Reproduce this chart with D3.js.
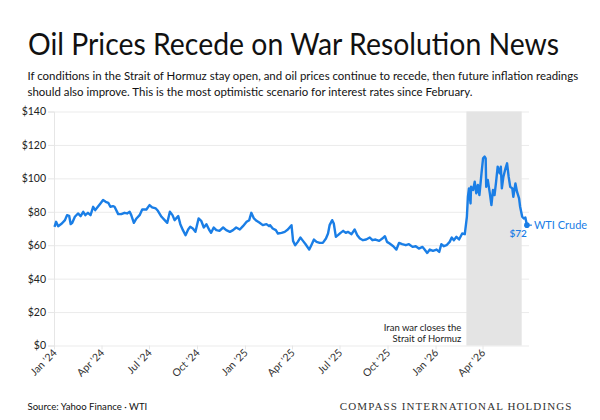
<!DOCTYPE html>
<html>
<head>
<meta charset="utf-8">
<script src="https://cdn.jsdelivr.net/npm/d3@7"></script>
<style>
  html, body { margin: 0; padding: 0; background: #fff; }
  svg { display: block; }
</style>
</head>
<body>
<svg id="chart" width="600" height="420"></svg>
<script>
// ---- DATA ----
const dates = [
"2024-01-02","2024-01-05","2024-01-09","2024-01-16","2024-01-22","2024-01-26","2024-01-30","2024-02-02","2024-02-05","2024-02-10",
"2024-02-16","2024-02-21","2024-02-26","2024-03-01","2024-03-06","2024-03-11","2024-03-16","2024-03-20","2024-03-25","2024-03-30",
"2024-04-04","2024-04-09","2024-04-14","2024-04-18","2024-04-23","2024-04-26","2024-05-03","2024-05-09","2024-05-15","2024-05-20",
"2024-05-25","2024-05-28","2024-06-02","2024-06-07","2024-06-13","2024-06-18","2024-06-26","2024-07-02","2024-07-07","2024-07-14",
"2024-07-18","2024-07-25","2024-07-31","2024-08-05","2024-08-10","2024-08-15","2024-08-19","2024-08-26","2024-08-30","2024-09-04",
"2024-09-09","2024-09-14","2024-09-18","2024-09-23","2024-09-28","2024-10-04","2024-10-09","2024-10-14","2024-10-19","2024-10-24",
"2024-10-28","2024-11-02","2024-11-07","2024-11-13","2024-11-20","2024-11-26","2024-12-03","2024-12-09","2024-12-15","2024-12-22",
"2024-12-28","2025-01-04","2025-01-09","2025-01-13","2025-01-18","2025-01-23","2025-01-29","2025-02-04","2025-02-11","2025-02-16",
"2025-02-18","2025-02-23","2025-03-01","2025-03-05","2025-03-12","2025-03-18","2025-03-24","2025-03-31","2025-04-03","2025-04-07",
"2025-04-12","2025-04-17","2025-04-22","2025-04-27","2025-05-04","2025-05-08","2025-05-13","2025-05-18","2025-05-24","2025-05-30",
"2025-06-05","2025-06-09","2025-06-12","2025-06-17","2025-06-20","2025-06-24","2025-06-28","2025-07-03","2025-07-08","2025-07-13",
"2025-07-17","2025-07-24","2025-07-30","2025-08-04","2025-08-09","2025-08-15","2025-08-21","2025-08-28","2025-09-02","2025-09-08",
"2025-09-15","2025-09-21","2025-09-26","2025-09-30","2025-10-05","2025-10-12","2025-10-18","2025-10-23","2025-10-29","2025-11-05",
"2025-11-11","2025-11-18","2025-11-24","2025-11-30","2025-12-07","2025-12-11","2025-12-16","2025-12-21","2025-12-27","2026-01-03",
"2026-01-08","2026-01-12","2026-01-17","2026-01-22","2026-01-28","2026-02-01","2026-02-05","2026-02-10","2026-02-15","2026-02-21",
"2026-02-26","2026-03-02","2026-03-04","2026-03-06","2026-03-09","2026-03-10","2026-03-14","2026-03-17","2026-03-20","2026-03-23",
"2026-03-26","2026-03-30","2026-04-02","2026-04-05","2026-04-07","2026-04-08","2026-04-11","2026-04-15","2026-04-18","2026-04-21",
"2026-04-24","2026-04-27","2026-04-30","2026-05-04","2026-05-06","2026-05-08","2026-05-11","2026-05-15","2026-05-18","2026-05-21",
"2026-05-24","2026-05-28","2026-05-30","2026-06-03","2026-06-06","2026-06-10","2026-06-12","2026-06-16","2026-06-19","2026-06-22",
"2026-06-25"
];
const prices = [
71,74,71.4,73,75,78,77.6,72.6,73.4,77,
79,77.4,80,78,79.4,78,83,81,83,85,
87,86,85.4,83,83.4,83,78.6,78.6,79.4,79,
80,78,73.4,76,78,81.4,81.4,84,82.6,82,
80.6,77,75,73.4,80,78,75,77.4,72.6,69,
66,69.4,71,70,68,76,74.6,70.6,72.6,69.4,
67.4,70.6,69,68.6,70.6,69,68,69,70.6,69.4,
71.4,74,75,79.4,76,74.6,73.4,72,72.6,71.4,
72,70,69,67,67.4,68,69.4,72,62.6,60,
62,64.6,62.6,60.6,57.4,60,63.4,62,61.4,61.4,
64,67,72,75,73,65,66,67.4,68.6,67.4,
68,66.6,69.4,66,64,63,63.4,64.6,63,63.4,
62.6,64,65.4,62,61,59.4,57.4,61.4,60.6,60,
60.6,59,59.4,58,59,57.4,55.4,57.4,56.6,57.4,
56,60.6,59.4,60,62,64.6,63,65,63.4,67,
66.6,77,89,94,85,95,93,98,91,96,
90,103,112,113,112,95,99,91,84,93,
90,98,107,103,107,94,101,106,109,101,
95,94,89,97,92,88,83,77,76,76.6,
72
];
const yTicks = [0, 20, 40, 60, 80, 100, 120, 140];
const xTickDates = ["2024-01-01","2024-04-01","2024-07-01","2024-10-01","2025-01-01","2025-04-01","2025-07-01","2025-10-01","2026-01-01","2026-04-01"];
const xTickLabels = ["Jan '24","Apr '24","Jul '24","Oct '24","Jan '25","Apr '25","Jul '25","Oct '25","Jan '26","Apr '26"];
const shadeRange = ["2026-03-01", "2026-06-15"];
const xDomain = ["2024-01-01", "2026-06-29"];
const yDomain = [0, 140];
const titleText = "Oil Prices Recede on War Resolution News";
const subtitleLines = [
  "If conditions in the Strait of Hormuz stay open, and oil prices continue to recede, then future inflation readings",
  "should also improve. This is the most optimistic scenario for interest rates since February."
];
const annotationLines = ["Iran war closes the", "Strait of Hormuz"];
const seriesName = "WTI Crude";
const sourceText = "Source: Yahoo Finance \u00b7 WTI";
const brandText = "COMPASS INTERNATIONAL HOLDINGS";

// ---- CHART ----
(function () {
const parse = d3.timeParse("%Y-%m-%d");
const data = dates.map((d, i) => ({ date: parse(d), value: prices[i] }));
const blue = "#1a7ee6";
const sans = "Lato, 'Noto Sans', sans-serif";

const svg = d3.select("#chart");
const pLeft = 54, pRight = 529, pTop = 111.5, pBottom = 345.5;

const x = d3.scaleTime().domain(xDomain.map(parse)).range([pLeft, pRight]);
const y = d3.scaleLinear().domain(yDomain).range([pBottom, pTop]);

function fitText(sel, target) {
  const fs = parseFloat(sel.attr("font-size"));
  const w = sel.node().getComputedTextLength();
  sel.attr("font-size", fs * target / w);
}

// Title
const title = svg.append("text").attr("x", 28).attr("y", 0)
  .attr("transform", "translate(0,55) scale(1,1.1)")
  .attr("font-family", sans).attr("font-size", 30).attr("fill", "#111")
  .text(titleText);
fitText(title, 531);

const sub1 = svg.append("text").attr("x", 27.5).attr("y", 79.5)
  .attr("font-family", sans).attr("font-size", 12.5).attr("fill", "#111")
  .text(subtitleLines[0]);
fitText(sub1, 551);
const subFs = sub1.attr("font-size");
svg.append("text").attr("x", 27.5).attr("y", 95.5)
  .attr("font-family", sans).attr("font-size", subFs).attr("fill", "#111")
  .text(subtitleLines[1]);

// Grid
const grid = d3.axisLeft(y).tickValues(yTicks).tickSize(-(pRight - pLeft)).tickFormat("");
const gg = svg.append("g").attr("transform", `translate(${pLeft},0)`).call(grid);
gg.select(".domain").remove();
gg.selectAll(".tick line").attr("stroke", "#ebebeb");

// Shade
svg.append("rect")
  .attr("x", x(parse(shadeRange[0])))
  .attr("y", pTop)
  .attr("width", x(parse(shadeRange[1])) - x(parse(shadeRange[0])))
  .attr("height", pBottom - pTop)
  .attr("fill", "#e4e4e4");

// Y axis
const yAxis = d3.axisLeft(y).tickValues(yTicks).tickSize(6).tickPadding(2)
  .tickFormat(d => "$" + d);
const yg = svg.append("g").attr("transform", `translate(${pLeft},0)`).call(yAxis);
yg.select(".domain").attr("stroke", "#e6e6e6");
yg.selectAll(".tick line").attr("stroke", "#e6e6e6");
yg.selectAll(".tick text").attr("font-family", sans).attr("font-size", 10.5).attr("fill", "#222");

// X axis
const xAxis = d3.axisBottom(x).tickValues(xTickDates.map(parse)).tickSize(4)
  .tickFormat((d, i) => xTickLabels[i]);
const xg = svg.append("g").attr("transform", `translate(0,${pBottom})`).call(xAxis);
xg.select(".domain").remove();
xg.selectAll(".tick line").attr("stroke", "#e6e6e6");
xg.selectAll(".tick text")
  .attr("font-family", sans).attr("font-size", 10.5).attr("fill", "#333")
  .attr("text-anchor", "end")
  .attr("dy", 0).attr("y", 0)
  .attr("transform", "translate(3,8) rotate(-45)");

// Annotation
const annX = x(parse(shadeRange[0])) - 5;
annotationLines.forEach((t, i) => {
  svg.append("text").attr("x", annX).attr("y", 331 + i * 10.5)
    .attr("text-anchor", "end").attr("font-family", sans).attr("font-size", 9.5)
    .attr("fill", "#222").text(t);
});

// Line
const line = d3.line().x(d => x(d.date)).y(d => y(d.value)).curve(d3.curveLinear);
svg.append("path").datum(data).attr("d", line)
  .attr("fill", "none").attr("stroke", blue).attr("stroke-width", 2.4)
  .attr("stroke-linejoin", "round");

// End marker and labels
const last = data[data.length - 1];
const lx = x(last.date), ly = y(last.value);
svg.append("circle").attr("cx", lx).attr("cy", ly).attr("r", 2.8).attr("fill", blue);
svg.append("line").attr("x1", lx).attr("x2", lx + 5).attr("y1", ly).attr("y2", ly)
  .attr("stroke", blue).attr("stroke-width", 1.2);
svg.append("text").attr("x", lx + 7).attr("y", ly + 3.8)
  .attr("font-family", sans).attr("font-size", 11).attr("fill", blue).text(seriesName);
svg.append("text").attr("x", lx).attr("y", ly + 11.5).attr("text-anchor", "end")
  .attr("font-family", sans).attr("font-size", 10).attr("font-weight", 600).attr("fill", blue)
  .text("$" + Math.round(last.value));

// Footer
const src = svg.append("text").attr("x", 27.5).attr("y", 410)
  .attr("font-family", sans).attr("font-size", 10.5).attr("fill", "#111").text(sourceText);
fitText(src, 120);
svg.append("text").attr("x", 572.5).attr("y", 410).attr("text-anchor", "end")
  .attr("font-family", "'Liberation Serif', 'DejaVu Serif', serif").attr("font-size", 11)
  .attr("letter-spacing", 1.1).attr("fill", "#333").text(brandText);
})();
</script>
</body>
</html>
